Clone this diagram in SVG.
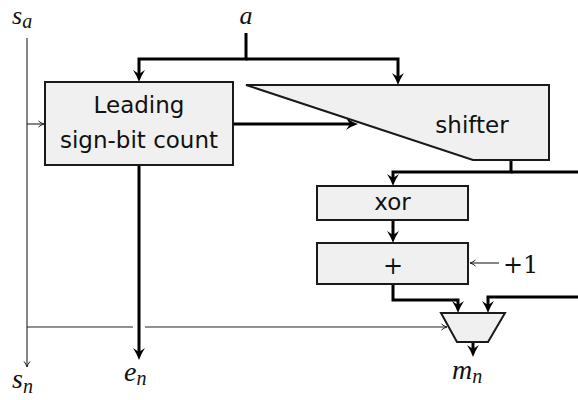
<svg xmlns="http://www.w3.org/2000/svg" width="578" height="400" viewBox="0 0 578 400">
<style>
.box{fill:#f0f0f0;stroke:#1a1a1a;stroke-width:2;stroke-linejoin:miter}
.thick{fill:none;stroke:#000;stroke-width:3;stroke-linejoin:miter}
.thin{fill:none;stroke:#222;stroke-width:1.1}
.lbl{font-family:"DejaVu Sans",sans-serif;font-size:23px;fill:#111;text-anchor:middle}
.m{font-family:"Liberation Serif",serif;font-style:italic;font-size:28px;fill:#111}
.mt{font-size:26px}
.sub{font-size:20px}
.num{font-family:"DejaVu Serif",serif;font-size:24px;fill:#111}
</style>
<defs>
<marker id="ah" markerUnits="userSpaceOnUse" markerWidth="14" markerHeight="14" refX="4" refY="7" orient="auto" overflow="visible">
<path d="M0,1 Q6,5 12,7 Q6,9 0,13 L4,7 Z" fill="#000"/>
</marker>
<marker id="at" markerUnits="userSpaceOnUse" markerWidth="8" markerHeight="8" refX="6" refY="4" orient="auto" overflow="visible">
<path d="M0.5,1 Q3,3.2 6,4 Q3,4.8 0.5,7" fill="none" stroke="#222" stroke-width="1"/>
</marker>
</defs>

<g id="connectors">
<path class="thick" d="M246,33 V59 H139 V74" marker-end="url(#ah)"/>
<path class="thick" d="M246,59 H398 V77" marker-end="url(#ah)"/>
<path class="thick" d="M233,124 H350" marker-end="url(#ah)"/>
<path class="thick" d="M139,165 V352" marker-end="url(#ah)"/>
<path class="thick" d="M511,160 V172 H393 V178" marker-end="url(#ah)"/>
<path class="thick" d="M511,172 H580"/>
<path class="thick" d="M393,220 V235" marker-end="url(#ah)"/>
<path class="thick" d="M393,284 V300 H458 V305" marker-end="url(#ah)"/>
<path class="thick" d="M580,297 H488 V305" marker-end="url(#ah)"/>
<path class="thick" d="M473,342 V349" marker-end="url(#ah)"/>
<path class="thin" d="M27,38 V367" marker-end="url(#at)"/>
<path class="thin" d="M27,124 H44" marker-end="url(#at)"/>
<path class="thin" d="M27,327 H133"/>
<path class="thin" d="M145,327 H447" marker-end="url(#at)"/>
<path class="thin" d="M499,263 H470" marker-end="url(#at)"/>
</g>

<g id="lsb">
<rect class="box" x="45" y="82" width="188" height="83"/>
<text class="lbl" x="139" y="113">Leading</text>
<text class="lbl" x="139" y="148">sign-bit count</text>
</g>
<g id="shifter">
<polygon class="box" points="246,85 549,85 549,160 473,160"/>
<text class="lbl" x="472" y="133">shifter</text>
</g>
<g id="xor">
<rect class="box" x="317" y="186" width="151" height="34"/>
<text class="lbl" x="392.5" y="210">xor</text>
</g>
<g id="adder">
<rect class="box" x="317" y="243" width="151" height="41"/>
<text class="num" x="393" y="274" text-anchor="middle">+</text>
</g>
<g id="mux">
<polygon class="box" points="441,313 505,313 488,342 457,342"/>
</g>

<g id="labels">
<text class="m mt" x="12" y="24">s<tspan class="sub" dy="4">a</tspan></text>
<text class="m mt" x="246" y="24" text-anchor="middle">a</text>
<text class="m" x="12" y="388">s<tspan class="sub" dy="5">n</tspan></text>
<text class="m" x="124" y="381">e<tspan class="sub" dy="4">n</tspan></text>
<text class="m" x="452" y="379">m<tspan class="sub" dy="4">n</tspan></text>
<text class="num" x="503" y="273">+1</text>
</g>
</svg>
